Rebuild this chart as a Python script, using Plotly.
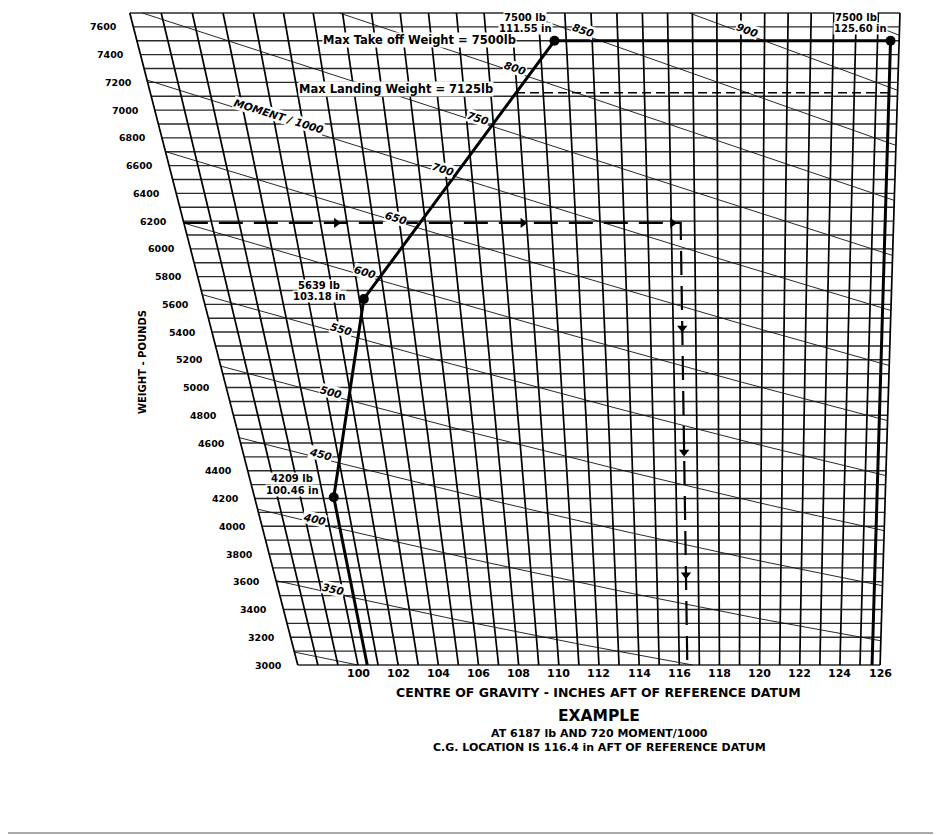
import numpy as np
import plotly.graph_objects as go

# ---------------- data ----------------
WEIGHT_TICKS = list(range(3000, 7601, 200))
CG_TICKS = list(range(100, 127, 2))
GRID_WEIGHTS = list(range(3000, 7701, 100))
GRID_CGS = list(range(97, 127))
MOMENTS = list(range(300, 951, 50))
MOMENT_LABELS = [350, 400, 450, 500, 550, 600, 650, 700, 750, 800, 850, 900]
MOMENT_LABEL_W = [3517, 4025, 4490, 4942, 5390, 5804, 6197, 6549, 6918, 7274, 7546, 7546]
ENVELOPE_CG = [100.46, 100.46, 103.18, 111.55, 125.60, 125.60]
ENVELOPE_W = [3000, 4209, 5639, 7500, 7500, 3000]
POINT_CG = [100.46, 103.18, 111.55, 125.60]
POINT_W = [4209, 5639, 7500, 7500]
MAX_TAKEOFF_W = 7500
MAX_LANDING_W = 7125
EXAMPLE_W = 6187
EXAMPLE_MOMENT = 720
EXAMPLE_CG = 116.4
EXAMPLE_ARROW_CG = [102.6, 109.85, 116.05]
EXAMPLE_ARROW_W = [5430, 4535, 3650]

CG_MIN, CG_MAX = 97, 126
W_MIN, W_MAX = 3000, 7700

# ---------------- chart geometry (skewed CG grid) ----------------
PX_IN = 20.08      # px per inch along the bottom edge
PX_LB = 0.13872    # px per lb
X0_PX, Y0_PX = 358, 665   # screen pixel of CG 100 / 3000 lb
OFF = 8                   # page body margin


def lean(cg):
    u = cg - CG_MIN
    return (-168 + 11.54 * u - 0.1745 * u * u) / PX_IN


def X(cg, w):
    return cg + lean(cg) * (w - W_MIN) / (W_MAX - W_MIN)


W_FIG, H_FIG = 941 - OFF, 835 - OFF
L_M, R_M, T_M, B_M = 52, 13, 0, 127
plot_w = W_FIG - L_M - R_M
plot_h = H_FIG - T_M - B_M


def px_x(p):   # screen px -> data x
    return 100 + (p - X0_PX) / PX_IN


def px_w(p):   # screen px -> data y
    return 3000 + (Y0_PX - p) / PX_LB


def paper_x(p):
    return (p - OFF - L_M) / plot_w


def paper_y(p):
    return (H_FIG - B_M - (p - OFF)) / plot_h


x_range = [px_x(L_M + OFF), px_x(W_FIG - R_M + OFF)]
y_range = [px_w(H_FIG - B_M + OFF), px_w(T_M + OFF)]

fig = go.Figure()

# horizontal weight lines
hx, hy = [], []
for w in GRID_WEIGHTS:
    hx += [X(CG_MIN, w), X(CG_MAX, w), None]
    hy += [w, w, None]
fig.add_trace(go.Scatter(x=hx, y=hy, mode="lines",
                         line=dict(color="#2a2a2a", width=1.4), hoverinfo="skip"))

# CG lines
vx, vy = [], []
for cg in GRID_CGS:
    vx += [X(cg, W_MIN), X(cg, W_MAX), None]
    vy += [W_MIN, W_MAX, None]
fig.add_trace(go.Scatter(x=vx, y=vy, mode="lines",
                         line=dict(color="black", width=1.7), hoverinfo="skip"))

# moment lines
mx, my = [], []
for m in MOMENTS:
    w_lo = max(W_MIN, m * 1000 / CG_MAX)
    w_hi = min(W_MAX, m * 1000 / CG_MIN)
    if w_hi <= w_lo:
        continue
    ws = np.linspace(w_lo, w_hi, 40)
    cgs = m * 1000 / ws
    mx += [X(c, w) for c, w in zip(cgs, ws)] + [None]
    my += list(ws) + [None]
fig.add_trace(go.Scatter(x=mx, y=my, mode="lines",
                         line=dict(color="#111", width=0.9), hoverinfo="skip"))

# max landing weight dashed line
t = (MAX_LANDING_W - ENVELOPE_W[2]) / (ENVELOPE_W[3] - ENVELOPE_W[2])
xa = X(ENVELOPE_CG[2], ENVELOPE_W[2])
xb = X(ENVELOPE_CG[3], ENVELOPE_W[3])
fig.add_trace(go.Scatter(x=[xa + t * (xb - xa), X(CG_MAX - 0.4, MAX_LANDING_W)],
                         y=[MAX_LANDING_W, MAX_LANDING_W], mode="lines",
                         line=dict(color="black", width=1.6, dash="9px,5px"),
                         hoverinfo="skip"))

# example dashed path
fig.add_trace(go.Scatter(
    x=[X(CG_MIN, EXAMPLE_W), X(EXAMPLE_CG, EXAMPLE_W), X(EXAMPLE_CG, W_MIN)],
    y=[EXAMPLE_W, EXAMPLE_W, W_MIN], mode="lines",
    line=dict(color="black", width=2.2, dash="24px,11px"), hoverinfo="skip"))
fig.add_trace(go.Scatter(
    x=[X(c, EXAMPLE_W) for c in EXAMPLE_ARROW_CG], y=[EXAMPLE_W] * len(EXAMPLE_ARROW_CG),
    mode="markers", marker=dict(symbol="triangle-right", size=9, color="black"),
    hoverinfo="skip"))
fig.add_trace(go.Scatter(
    x=[X(EXAMPLE_CG, w) for w in EXAMPLE_ARROW_W], y=EXAMPLE_ARROW_W,
    mode="markers", marker=dict(symbol="triangle-down", size=9, color="black"),
    hoverinfo="skip"))

# envelope
fig.add_trace(go.Scatter(x=[X(c, w) for c, w in zip(ENVELOPE_CG, ENVELOPE_W)], y=ENVELOPE_W,
                         mode="lines", line=dict(color="black", width=3), hoverinfo="skip"))
fig.add_trace(go.Scatter(x=[X(c, w) for c, w in zip(POINT_CG, POINT_W)], y=POINT_W,
                         mode="markers", marker=dict(color="black", size=10), hoverinfo="skip"))

FONT = "DejaVu Sans"
ann = []

# weight tick labels along the slanted left edge
for w in WEIGHT_TICKS:
    ann.append(dict(x=X(CG_MIN, w), y=w, text=f"<b>{w}</b>", showarrow=False,
                    xanchor="right", yanchor="middle", xshift=-14,
                    font=dict(family=FONT, size=9.5, color="black")))
# CG tick labels along the bottom
for c in CG_TICKS:
    ann.append(dict(x=c, y=W_MIN, text=f"<b>{c}</b>", showarrow=False,
                    xanchor="center", yanchor="top", yshift=0,
                    font=dict(family=FONT, size=11, color="black")))


def angle_on(m, w):
    w1, w2 = w - 30, w + 30
    dx = (X(m * 1000 / w2, w2) - X(m * 1000 / w1, w1)) * PX_IN
    dy = -(w2 - w1) * PX_LB
    a = np.degrees(np.arctan2(dy, dx))
    if a > 90:
        a -= 180
    if a < -90:
        a += 180
    return float(a)


for m, w in zip(MOMENT_LABELS, MOMENT_LABEL_W):
    ann.append(dict(x=X(m * 1000 / w, w), y=w, text=f"<b><i>{m}</i></b>", showarrow=False,
                    textangle=angle_on(m, w), bgcolor="white", borderpad=0, yshift=4,
                    font=dict(family=FONT, size=10.5, color="black")))
w_mom = 6920
ann.append(dict(x=X(700000 / w_mom, w_mom), y=w_mom, text="<b><i>MOMENT / 1000</i></b>",
                showarrow=False, textangle=angle_on(700, w_mom), bgcolor="white", borderpad=0,
                yshift=5, font=dict(family=FONT, size=10.5, color="black")))

# point labels (two lines each)
POINT_TXT = [("4209 lb", "100.46 in", -42, -41, 17),
             ("5639 lb", "103.18 in", -45, -44, 12),
             ("7500 lb", "111.55 in", -29, -29, 22),
             ("7500 lb", "125.60 in", -35, -30, 22)]
for (c, w), (l1, l2, dx1, dx2, dy) in zip(zip(POINT_CG, POINT_W), POINT_TXT):
    ann.append(dict(x=X(c, w), y=w, text=f"<b>{l2}</b>", showarrow=False,
                    xshift=dx2, yshift=dy - 10, bgcolor="white", borderpad=0,
                    font=dict(family=FONT, size=10, color="black")))
    ann.append(dict(x=X(c, w), y=w, text=f"<b>{l1}</b>", showarrow=False,
                    xshift=dx1, yshift=dy + 1.5, bgcolor="white", borderpad=0,
                    font=dict(family=FONT, size=10, color="black")))

ann.append(dict(x=px_x(419), y=MAX_TAKEOFF_W, text="<b>Max Take off Weight = 7500lb</b>",
                showarrow=False, bgcolor="white", borderpad=0, yshift=1,
                font=dict(family=FONT, size=11.5, color="black")))
ann.append(dict(x=px_x(396), y=MAX_LANDING_W, text="<b>Max Landing Weight = 7125lb</b>",
                showarrow=False, bgcolor="white", borderpad=0, yshift=4,
                font=dict(family=FONT, size=11.5, color="black")))

# axis titles and example text (paper positioned)
TXT = [("<b>WEIGHT - POUNDS</b>", 142, 362, 10, -90),
       ("<b>CENTRE OF GRAVITY - INCHES AFT OF REFERENCE DATUM</b>", 598, 692, 12.5, 0),
       ("<b>EXAMPLE</b>", 599, 716, 15.5, 0),
       ("<b>AT 6187 lb AND 720 MOMENT/1000</b>", 599, 733.5, 11, 0),
       ("<b>C.G. LOCATION IS 116.4 in AFT OF REFERENCE DATUM</b>", 599, 747.5, 11, 0)]
for txt, sx, sy, fs, ang in TXT:
    ann.append(dict(xref="paper", yref="paper", x=paper_x(sx), y=paper_y(sy), text=txt,
                    showarrow=False, textangle=ang, xanchor="center", yanchor="middle",
                    font=dict(family=FONT, size=fs, color="black")))

shapes = [dict(type="line", xref="paper", yref="paper",
               x0=paper_x(0), x1=paper_x(941),
               y0=paper_y(833), y1=paper_y(833),
               line=dict(color="#555", width=1))]

fig.update_layout(
    width=W_FIG, height=H_FIG,
    margin=dict(l=L_M, r=R_M, t=T_M, b=B_M),
    paper_bgcolor="white", plot_bgcolor="white",
    showlegend=False,
    xaxis=dict(range=x_range, visible=False, fixedrange=True),
    yaxis=dict(range=y_range, visible=False, fixedrange=True),
    annotations=ann, shapes=shapes,
)

fig.write_html("out.html")
